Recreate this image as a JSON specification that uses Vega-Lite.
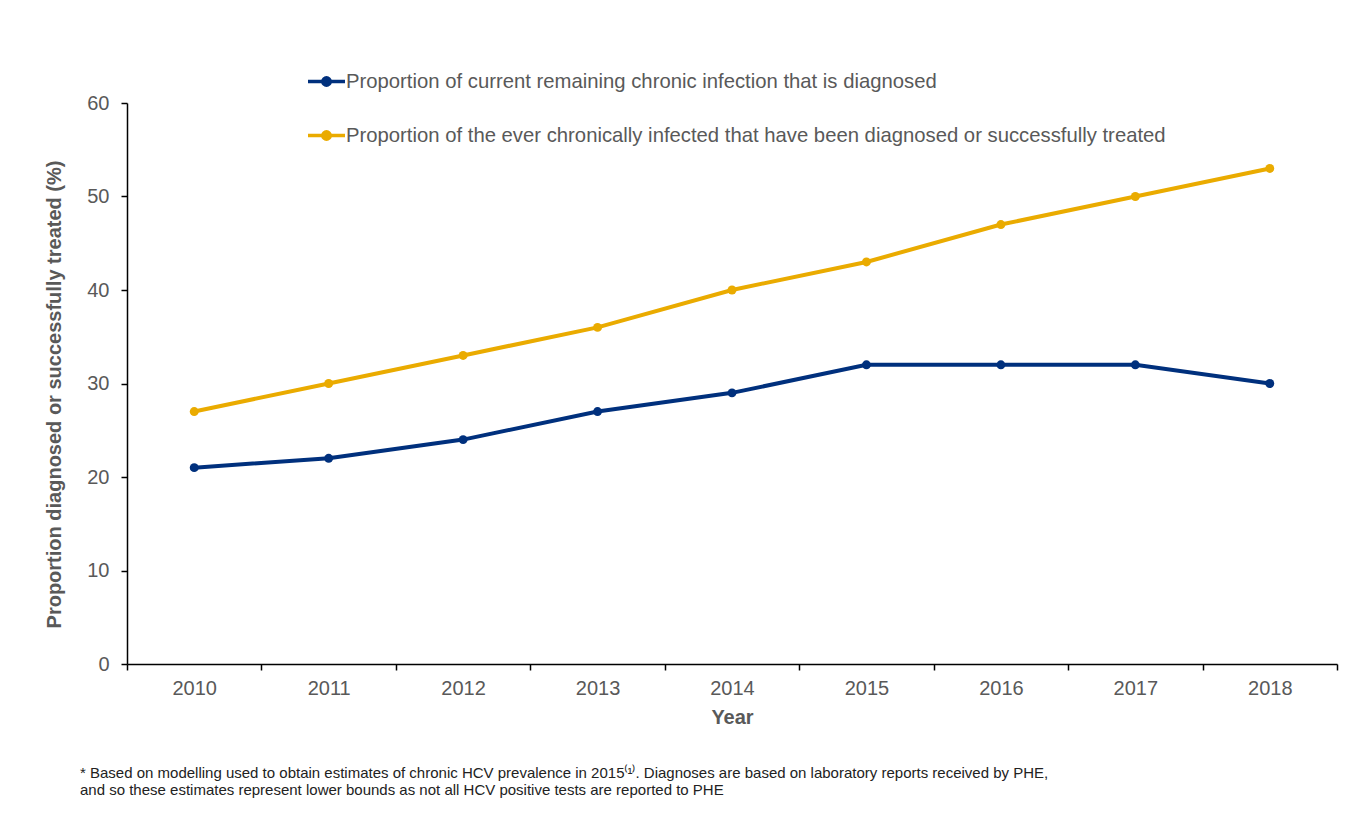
{
  "$schema": "https://vega.github.io/schema/vega-lite/v6.json",
  "width": 1210,
  "height": 561,
  "autosize": {"type": "none"},
  "padding": {"left": 127, "top": 103, "right": 13, "bottom": 175},
  "background": "white",
  "config": {
    "view": {"stroke": null},
    "font": "Liberation Sans"
  },
  "title": {
    "text": [
      "* Based on modelling used to obtain estimates of chronic HCV prevalence in 2015⁽¹⁾. Diagnoses are based on laboratory reports received by PHE,",
      "and so these estimates represent lower bounds as not all HCV positive tests are reported to PHE"
    ],
    "orient": "bottom",
    "anchor": "start",
    "frame": "group",
    "dx": -47,
    "offset": 39,
    "fontSize": 15,
    "fontWeight": "normal",
    "color": "#222222",
    "lineHeight": 17
  },
  "data": {
    "values": [
      {"year": "2010", "series": "Proportion of current remaining chronic infection that is diagnosed", "value": 21},
      {"year": "2011", "series": "Proportion of current remaining chronic infection that is diagnosed", "value": 22},
      {"year": "2012", "series": "Proportion of current remaining chronic infection that is diagnosed", "value": 24},
      {"year": "2013", "series": "Proportion of current remaining chronic infection that is diagnosed", "value": 27},
      {"year": "2014", "series": "Proportion of current remaining chronic infection that is diagnosed", "value": 29},
      {"year": "2015", "series": "Proportion of current remaining chronic infection that is diagnosed", "value": 32},
      {"year": "2016", "series": "Proportion of current remaining chronic infection that is diagnosed", "value": 32},
      {"year": "2017", "series": "Proportion of current remaining chronic infection that is diagnosed", "value": 32},
      {"year": "2018", "series": "Proportion of current remaining chronic infection that is diagnosed", "value": 30},
      {"year": "2010", "series": "Proportion of the ever chronically infected that have been diagnosed or successfully treated", "value": 27},
      {"year": "2011", "series": "Proportion of the ever chronically infected that have been diagnosed or successfully treated", "value": 30},
      {"year": "2012", "series": "Proportion of the ever chronically infected that have been diagnosed or successfully treated", "value": 33},
      {"year": "2013", "series": "Proportion of the ever chronically infected that have been diagnosed or successfully treated", "value": 36},
      {"year": "2014", "series": "Proportion of the ever chronically infected that have been diagnosed or successfully treated", "value": 40},
      {"year": "2015", "series": "Proportion of the ever chronically infected that have been diagnosed or successfully treated", "value": 43},
      {"year": "2016", "series": "Proportion of the ever chronically infected that have been diagnosed or successfully treated", "value": 47},
      {"year": "2017", "series": "Proportion of the ever chronically infected that have been diagnosed or successfully treated", "value": 50},
      {"year": "2018", "series": "Proportion of the ever chronically infected that have been diagnosed or successfully treated", "value": 53}
    ]
  },
  "encoding": {
    "x": {
      "field": "year",
      "type": "ordinal",
      "scale": {"type": "band", "paddingInner": 0, "paddingOuter": 0},
      "axis": {
        "title": "Year",
        "titleFontSize": 20,
        "titleFontWeight": "bold",
        "titleColor": "#595959",
        "titlePadding": 9,
        "labelAngle": 0,
        "labelFontSize": 20,
        "labelColor": "#595959",
        "labelPadding": 8,
        "tickBand": "extent",
        "tickSize": 6,
        "tickWidth": 1.5,
        "tickColor": "#000000",
        "domainColor": "#000000",
        "domainWidth": 1.5,
        "grid": false
      }
    },
    "y": {
      "field": "value",
      "type": "quantitative",
      "scale": {"domain": [0, 60], "nice": false},
      "axis": {
        "title": "Proportion diagnosed or successfully treated (%)",
        "titleFontSize": 20,
        "titleFontWeight": "bold",
        "titleColor": "#595959",
        "titlePadding": 22,
        "titleY": 291,
        "values": [0, 10, 20, 30, 40, 50, 60],
        "labelFontSize": 20,
        "labelColor": "#595959",
        "labelPadding": 12,
        "tickSize": 6,
        "tickWidth": 1.5,
        "tickColor": "#000000",
        "domainColor": "#000000",
        "domainWidth": 1.5,
        "grid": false
      }
    },
    "color": {
      "field": "series",
      "type": "nominal",
      "scale": {
        "domain": [
          "Proportion of current remaining chronic infection that is diagnosed",
          "Proportion of the ever chronically infected that have been diagnosed or successfully treated"
        ],
        "range": ["#00307D", "#EAAB00"]
      },
      "legend": {
        "title": null,
        "orient": "none",
        "legendX": 179,
        "legendY": -42,
        "direction": "vertical",
        "symbolType": "M-1,0H1M-0.2,0A0.2,0.2 0 1,1 0.2,0A0.2,0.2 0 1,1 -0.2,0Z",
        "symbolSize": 1369,
        "symbolStrokeWidth": 3.5,
        "labelFontSize": 20.3,
        "labelColor": "#595959",
        "labelOffset": -1,
        "labelLimit": 1000,
        "rowPadding": 22,
        "encode": {
          "symbols": {
            "update": {
              "fill": {"scale": "color", "field": "value"},
              "stroke": {"scale": "color", "field": "value"},
              "fillOpacity": {"value": 1}
            }
          }
        }
      }
    }
  },
  "mark": {
    "type": "line",
    "strokeWidth": 4,
    "point": {"filled": true, "size": 80}
  }
}
